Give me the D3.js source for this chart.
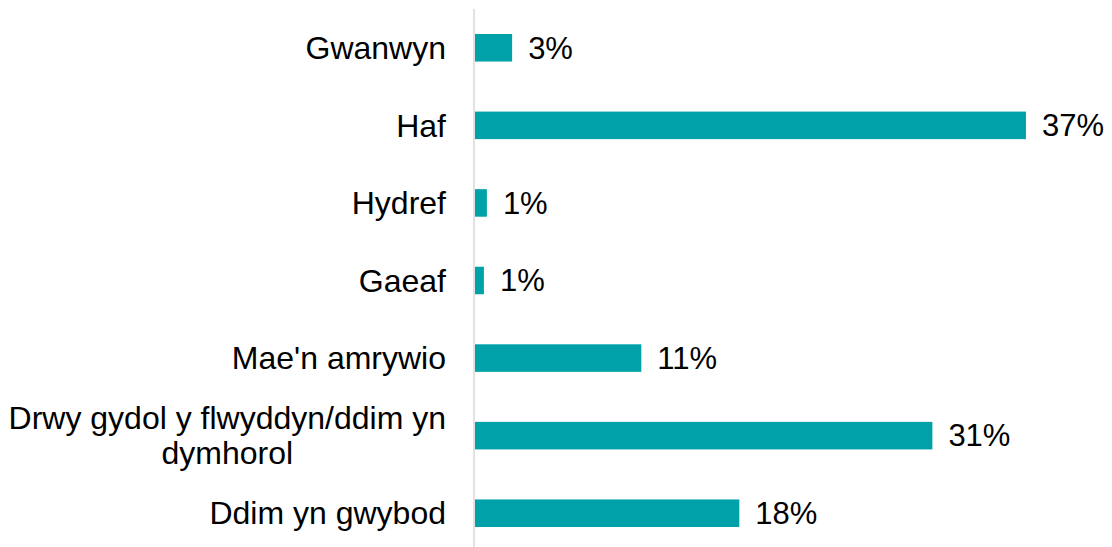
<!DOCTYPE html>
<html>
<head>
<meta charset="utf-8">
<script src="https://cdn.jsdelivr.net/npm/d3@7"></script>
<style>
  html, body { margin: 0; padding: 0; background: #fff; }
  text { font-family: "Liberation Sans", Arial, sans-serif; fill: #000; }
</style>
</head>
<body>
<div id="chart"></div>
<script>
// categories (top to bottom), multi-line labels split with "\n"
var categories = [
    "Gwanwyn",
    "Haf",
    "Hydref",
    "Gaeaf",
    "Mae'n amrywio",
    "Drwy gydol y flwyddyn/ddim yn\ndymhorol",
    "Ddim yn gwybod"
];
// share of respondents, percent
var values = [2.5, 37.1, 0.8, 0.6, 11.2, 30.8, 17.8];

var w = 1112, h = 547;
var axisX = 475;

var svg = d3.select('#chart').append('svg').attr('width', w).attr('height', h);

// x scale: 0..40% over the plot width
var x = d3.scaleLinear().domain([0, 40]).range([axisX, axisX + 594]);

// one band per category, bar sits in the middle of it
var y = d3.scaleBand()
    .domain(categories)
    .range([9, 552])
    .paddingInner(0.645)
    .paddingOuter(0.3225);

// bars
svg.append('g').selectAll('rect')
    .data(values)
    .enter().append('rect')
    .attr('x', x(0))
    .attr('y', function (d, i) { return y(categories[i]); })
    .attr('width', function (d) { return x(d) - x(0); })
    .attr('height', y.bandwidth())
    .attr('fill', '#00a1a9');

// vertical axis line
svg.append('line')
    .attr('x1', axisX - 1).attr('x2', axisX - 1)
    .attr('y1', 9).attr('y2', h)
    .attr('stroke', '#d9d9d9')
    .attr('stroke-width', 1.5);

// value labels
svg.append('g').selectAll('text')
    .data(values)
    .enter().append('text')
    .attr('x', function (d) { return x(d) + 16; })
    .attr('y', function (d, i) { return y(categories[i]) + y.bandwidth() / 2; })
    .attr('dy', '0.35em')
    .attr('font-size', 31)
    .text(function (d) { return Math.round(d) + '%'; });

// category labels: right aligned block, lines centred within the block
var labelRight = 446, lineH = 35;
var labelGroup = svg.append('g');
categories.forEach(function (cat) {
    var lines = cat.split('\n');
    var cy = y(cat) + y.bandwidth() / 2;
    var t = labelGroup.append('text')
        .attr('font-size', 32)
        .attr('text-anchor', 'middle');
    var spans = lines.map(function (line, j) {
        return t.append('tspan')
            .attr('y', cy + (j - (lines.length - 1) / 2) * lineH)
            .attr('dy', '0.35em')
            .text(line);
    });
    var maxW = d3.max(spans, function (s) { return s.node().getComputedTextLength(); });
    spans.forEach(function (s) { s.attr('x', labelRight - maxW / 2); });
});
</script>
</body>
</html>
